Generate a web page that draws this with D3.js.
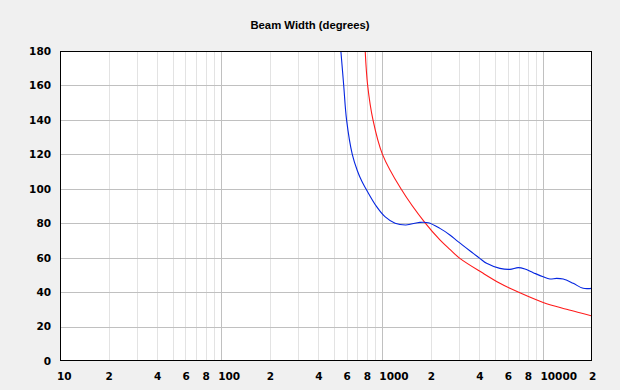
<!DOCTYPE html>
<html>
<head>
<meta charset="utf-8">
<script src="https://cdn.jsdelivr.net/npm/d3@7"></script>
<style>
  html, body { margin: 0; padding: 0; background: #f0f0f0; }
  .num text { font-family: "DejaVu Sans", sans-serif; font-weight: bold; font-size: 10.5px; fill: #000; }
</style>
</head>
<body>
<div class="chart"></div>
<script>
const title = "Beam Width (degrees)";

// blue trace
const blueFreq = [553, 576, 600, 651, 700, 745, 791, 922, 1038, 1200, 1400, 1710, 1928, 2277, 2625, 2950, 3666, 4027, 4436, 5363, 6188, 6967, 7670, 8637, 9950, 10960, 12060, 13260, 15290, 17630, 20000];
const blueDeg  = [180, 160, 140, 120, 110.5, 104.5, 100, 89.6, 83.8, 80, 79, 80.5, 80.3, 77, 73.2, 69.3, 62.5, 59.6, 56.7, 53.8, 53.2, 54.2, 53.4, 51.3, 48.9, 47.6, 48, 47.6, 45.1, 42.2, 42.2];

// red trace
const redFreq = [783, 811, 875, 1002, 1305, 1838, 2277, 2625, 3027, 4226, 5363, 6188, 9950, 13900, 20000];
const redDeg  = [180, 160, 140, 120, 100, 80.3, 70.3, 64.8, 59.6, 50.9, 45.1, 42.2, 34, 30, 26.1];

const yTicks = [0, 20, 40, 60, 80, 100, 120, 140, 160, 180];
const xLabelTicks = [10, 20, 40, 60, 80, 100, 200, 400, 600, 800, 1000, 2000, 4000, 6000, 8000, 10000, 20000];
const xLabels = ["10", "2", "4", "6", "8", "100", "2", "4", "6", "8", "1000", "2", "4", "6", "8", "10000", "2"];
const xMajor = [100, 1000, 10000];
const xMinor = [20, 30, 40, 50, 60, 70, 80, 90, 200, 300, 400, 500, 600, 700, 800, 900, 2000, 3000, 4000, 5000, 6000, 7000, 8000, 9000];

const W = 620, H = 390;
const plotL = 60, plotR = 592, plotT = 51, plotB = 361;

const svg = d3.select(".chart").append("svg")
    .attr("width", W)
    .attr("height", H);

const x = d3.scaleLog().domain([10, 20000]).range([plotL, plotR]);
const y = d3.scaleLinear().domain([0, 180]).range([plotB, plotT]);

svg.append("rect")
    .attr("x", plotL).attr("y", plotT)
    .attr("width", plotR - plotL).attr("height", plotB - plotT)
    .attr("fill", "#fff");

// grid
const grid = (g, color) => {
  g.select(".domain").remove();
  g.selectAll("line").attr("stroke", color).attr("shape-rendering", "crispEdges");
};

svg.append("g")
    .attr("transform", `translate(0,${plotB})`)
    .call(d3.axisBottom(x).tickValues(xMinor).tickSize(-(plotB - plotT)).tickFormat(""))
    .call(g => grid(g, "#e3e3e3"));

svg.append("g")
    .attr("transform", `translate(0,${plotB})`)
    .call(d3.axisBottom(x).tickValues(xMajor).tickSize(-(plotB - plotT)).tickFormat(""))
    .call(g => grid(g, "#c0c0c0"));

svg.append("g")
    .attr("transform", `translate(${plotL},0)`)
    .call(d3.axisLeft(y).tickValues(yTicks.slice(1, -1)).tickSize(-(plotR - plotL)).tickFormat(""))
    .call(g => grid(g, "#c0c0c0"));

// traces
svg.append("clipPath").attr("id", "plot-clip")
  .append("rect")
    .attr("x", plotL).attr("y", plotT)
    .attr("width", plotR - plotL).attr("height", plotB - plotT);

const line = d3.line()
    .x(d => x(d[0]))
    .y(d => y(d[1]))
    .curve(d3.curveCatmullRom.alpha(0.5));

svg.append("path")
    .datum(redFreq.map((f, i) => [f, redDeg[i]]))
    .attr("clip-path", "url(#plot-clip)")
    .attr("fill", "none")
    .attr("stroke", "#ff1a1a")
    .attr("stroke-width", 1.1)
    .attr("d", line);

svg.append("path")
    .datum(blueFreq.map((f, i) => [f, blueDeg[i]]))
    .attr("clip-path", "url(#plot-clip)")
    .attr("fill", "none")
    .attr("stroke", "#0526e0")
    .attr("stroke-width", 1.1)
    .attr("d", line);

// frame
svg.append("rect")
    .attr("x", plotL + 0.5).attr("y", plotT + 0.5)
    .attr("width", plotR - plotL - 1).attr("height", plotB - plotT - 1)
    .attr("fill", "none")
    .attr("stroke", "#000")
    .attr("shape-rendering", "crispEdges");

// axis labels
svg.append("g")
    .attr("class", "num")
    .attr("transform", `translate(${plotL},0)`)
    .call(d3.axisLeft(y).tickValues(yTicks).tickSize(0).tickPadding(9))
    .call(g => g.select(".domain").remove())
    .call(g => g.selectAll("text").attr("font-family", null).attr("font-size", null));

svg.append("g")
    .attr("class", "num")
    .attr("transform", `translate(0,${plotB})`)
    .call(d3.axisBottom(x).tickValues(xLabelTicks).tickSize(0).tickPadding(12)
      .tickFormat((d, i) => xLabels[i]))
    .call(g => g.select(".domain").remove())
    .call(g => g.selectAll("text")
      .attr("font-family", null).attr("font-size", null)
      .attr("text-anchor", "start").attr("dx", -3.5));

svg.append("text")
    .attr("x", W / 2)
    .attr("y", 29)
    .attr("text-anchor", "middle")
    .attr("font-family", "Liberation Sans, Arial, sans-serif")
    .attr("font-weight", "bold")
    .attr("font-size", "11.3px")
    .text(title);
</script>
</body>
</html>
